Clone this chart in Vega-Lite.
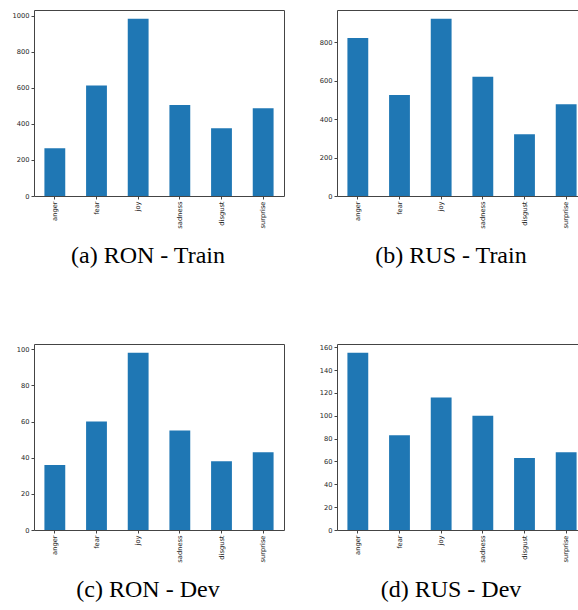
{
  "$schema": "https://vega.github.io/schema/vega-lite/v6.json",
  "background": "white",
  "padding": {"left": 11, "top": 9, "right": 0, "bottom": 0},
  "config": {
    "view": {"stroke": "#444", "strokeWidth": 1},
    "axis": {"labelFont": "DejaVu Sans", "labelFontSize": 6.7, "labelColor": "#222", "tickColor": "#444", "tickSize": 3, "domain": false, "grid": false, "title": null, "labelPadding": 2},
    "axisY": {"format": "d"},
    "title": {"font": "Liberation Serif", "fontSize": 24, "fontWeight": "normal", "color": "black", "orient": "bottom", "offset": 16, "dx": -11}
  },
  "datasets": {
    "ronTrain": [
      {"emotion": "anger", "count": 265}, {"emotion": "fear", "count": 612}, {"emotion": "joy", "count": 982},
      {"emotion": "sadness", "count": 505}, {"emotion": "disgust", "count": 375}, {"emotion": "surprise", "count": 487}
    ],
    "rusTrain": [
      {"emotion": "anger", "count": 822}, {"emotion": "fear", "count": 526}, {"emotion": "joy", "count": 922},
      {"emotion": "sadness", "count": 620}, {"emotion": "disgust", "count": 321}, {"emotion": "surprise", "count": 477}
    ],
    "ronDev": [
      {"emotion": "anger", "count": 36}, {"emotion": "fear", "count": 60}, {"emotion": "joy", "count": 98},
      {"emotion": "sadness", "count": 55}, {"emotion": "disgust", "count": 38}, {"emotion": "surprise", "count": 43}
    ],
    "rusDev": [
      {"emotion": "anger", "count": 155}, {"emotion": "fear", "count": 83}, {"emotion": "joy", "count": 116},
      {"emotion": "sadness", "count": 100}, {"emotion": "disgust", "count": 63}, {"emotion": "surprise", "count": 68}
    ]
  },
  "bounds": "flush",
  "columns": 2,
  "spacing": {"row": 148, "column": 53},
  "concat": [
    {
      "data": {"name": "ronTrain"},
      "title": "(a) RON - Train",
      "width": 250, "height": 186,
      "mark": {"type": "bar", "color": "#1f77b4"},
      "encoding": {
        "x": {"field": "emotion", "type": "nominal", "sort": null, "scale": {"paddingInner": 0.5, "paddingOuter": 0.25}, "axis": {"labelAngle": -90}},
        "y": {"field": "count", "type": "quantitative", "scale": {"domain": [0, 1031], "nice": false}, "axis": {"values": [0, 200, 400, 600, 800, 1000]}}
      }
    },
    {
      "data": {"name": "rusTrain"},
      "title": "(b) RUS - Train",
      "width": 250, "height": 186,
      "mark": {"type": "bar", "color": "#1f77b4"},
      "encoding": {
        "x": {"field": "emotion", "type": "nominal", "sort": null, "scale": {"paddingInner": 0.5, "paddingOuter": 0.25}, "axis": {"labelAngle": -90}},
        "y": {"field": "count", "type": "quantitative", "scale": {"domain": [0, 968], "nice": false}, "axis": {"values": [0, 200, 400, 600, 800]}}
      }
    },
    {
      "data": {"name": "ronDev"},
      "title": "(c) RON - Dev",
      "width": 250, "height": 186,
      "mark": {"type": "bar", "color": "#1f77b4"},
      "encoding": {
        "x": {"field": "emotion", "type": "nominal", "sort": null, "scale": {"paddingInner": 0.5, "paddingOuter": 0.25}, "axis": {"labelAngle": -90}},
        "y": {"field": "count", "type": "quantitative", "scale": {"domain": [0, 102.9], "nice": false}, "axis": {"values": [0, 20, 40, 60, 80, 100]}}
      }
    },
    {
      "data": {"name": "rusDev"},
      "title": "(d) RUS - Dev",
      "width": 250, "height": 186,
      "mark": {"type": "bar", "color": "#1f77b4"},
      "encoding": {
        "x": {"field": "emotion", "type": "nominal", "sort": null, "scale": {"paddingInner": 0.5, "paddingOuter": 0.25}, "axis": {"labelAngle": -90}},
        "y": {"field": "count", "type": "quantitative", "scale": {"domain": [0, 162.75], "nice": false}, "axis": {"values": [0, 20, 40, 60, 80, 100, 120, 140, 160]}}
      }
    }
  ]
}
